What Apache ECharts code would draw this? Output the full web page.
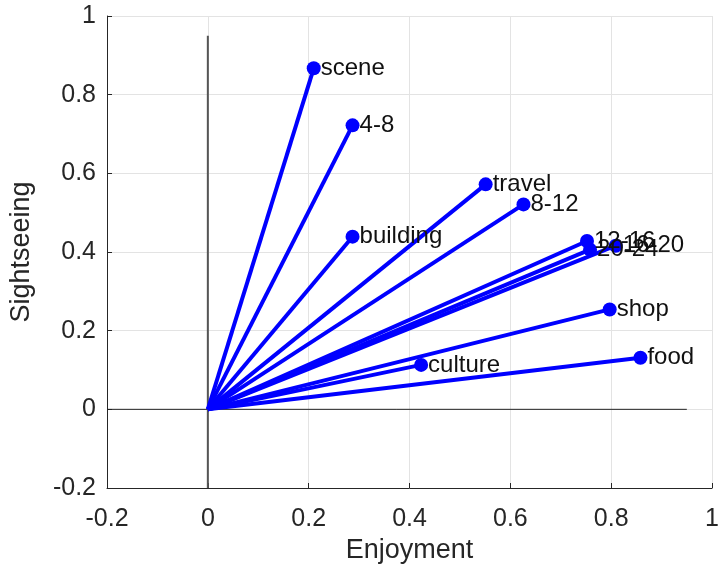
<!DOCTYPE html>
<html><head><meta charset="utf-8">
<script src="https://cdn.jsdelivr.net/npm/echarts@6/dist/echarts.min.js"></script>
<style>html,body{margin:0;padding:0;background:#fff}#c{width:722px;height:569px}</style>
</head><body><div id="c"></div>
<script>
const categories = ['scene','4-8','travel','8-12','building','12-16','16-20','20-24','shop','food','culture'];
const enjoyment  = [0.210, 0.287, 0.551, 0.626, 0.287, 0.752, 0.809, 0.758, 0.797, 0.858, 0.423];
const sightseeing= [0.867, 0.722, 0.572, 0.521, 0.439, 0.428, 0.416, 0.406, 0.254, 0.131, 0.113];
const xTicks = [-0.2, 0, 0.2, 0.4, 0.6, 0.8, 1];
const yTicks = [-0.2, 0, 0.2, 0.4, 0.6, 0.8, 1];
const refExtent = 0.95;

const font = 'Liberation Sans, Arial, Helvetica, sans-serif';
const series = [];
series.push({type:'line', data:[[xTicks[0],0],[refExtent,0]], symbol:'none', silent:true,
  lineStyle:{color:'#222', width:1}, z:1});
series.push({type:'line', data:[[0,yTicks[0]],[0,refExtent]], symbol:'none', silent:true,
  lineStyle:{color:'#555', width:2}, z:1});
categories.forEach((c,i)=>{
  series.push({type:'line', name:c, data:[[0,0],[enjoyment[i],sightseeing[i]]], symbol:'none',
    lineStyle:{color:'#0000ff', width:4}, z:2});
});
series.push({type:'scatter', data:categories.map((c,i)=>({value:[enjoyment[i],sightseeing[i]], name:c})),
  symbolSize:14, itemStyle:{color:'#0000ff', opacity:1}, z:3,
  label:{show:true, position:'right', distance:0, formatter:p=>p.name, color:'#111', fontSize:24, fontFamily:font}});

const axisCommon = {
  type:'value', interval:0.2,
  axisLine:{show:true, onZero:false, lineStyle:{color:'#262626', width:1}},
  axisTick:{show:true, inside:true, length:5, lineStyle:{color:'#262626'}},
  splitLine:{show:true, lineStyle:{color:'#e3e3e3', width:1}},
  axisLabel:{color:'#262626', fontSize:25, fontFamily:font, formatter:v=>String(Math.round(v*10)/10)},
  nameLocation:'middle', nameTextStyle:{color:'#262626', fontSize:27, fontFamily:font}
};
const chart = echarts.init(document.getElementById('c'));
chart.setOption({
  animation:false,
  grid:{left:104, right:8, top:16, bottom:81},
  xAxis:Object.assign({}, axisCommon, {min:xTicks[0], max:xTicks[xTicks.length-1], name:'Enjoyment', nameGap:49,
    axisLabel:Object.assign({}, axisCommon.axisLabel, {margin:19})}),
  yAxis:Object.assign({}, axisCommon, {min:yTicks[0], max:yTicks[yTicks.length-1], name:'Sightseeing', nameGap:72,
    axisLabel:Object.assign({}, axisCommon.axisLabel, {margin:11})}),
  series:series
});
</script></body></html>
